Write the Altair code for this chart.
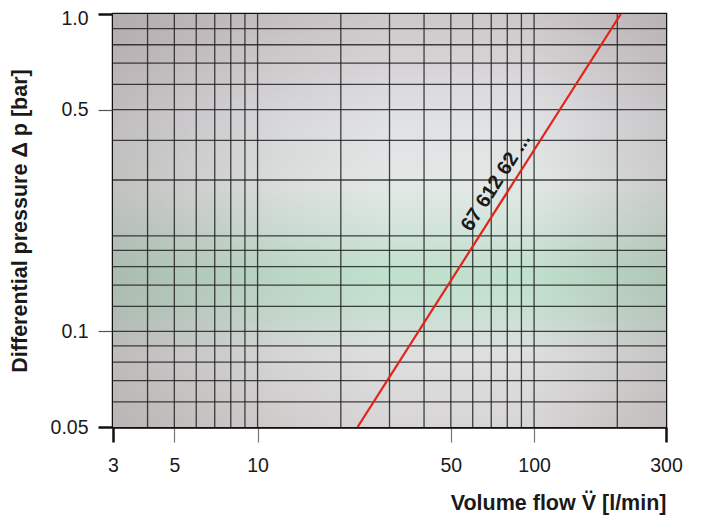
import altair as alt
import pandas as pd

# ---- data ----
x_ticks = [3, 5, 10, 50, 100, 300]
y_ticks = [0.05, 0.1, 0.5, 1.0]
x_grid = [4, 5, 6, 7, 8, 9, 10, 20, 30, 40, 50, 60, 70, 80, 90, 100, 200]
y_grid = [0.06, 0.07, 0.08, 0.09, 0.1, 0.12, 0.14, 0.16, 0.18,
          0.2, 0.3, 0.4, 0.5, 0.6, 0.7, 0.8, 0.9]
line_flow = [23.0, 206.0]
line_dp = [0.05, 1.0]
label_text = ["67 612 62 ..."]
label_flow = [80.9]
label_dp = [0.278]

W, H = 553, 413
xs = alt.Scale(type="log", domain=[3, 300], nice=False)
ys = alt.Scale(type="log", domain=[0.05, 1.0], nice=False)
FONT = "Liberation Sans"

end_test_x = "datum.value == 3 || datum.value == 300"
end_test_y = "datum.value == 1 || datum.value == 0.05"

x_axis = alt.Axis(
    values=x_ticks, format="~g", grid=False,
    title="Volume flow V\u0308 [l/min]", titleAnchor="end",
    titleFont=FONT, titleFontSize=21.5, titleFontWeight="bold",
    titleColor="#1a1a1a", titlePadding=18,
    labelFont=FONT, labelFontSize=19.5, labelColor="#1a1a1a",
    labelPadding=14, tickSize=15,
    tickColor={"condition": {"test": end_test_x, "value": "#111"}, "value": "#777"},
    tickWidth={"condition": {"test": end_test_x, "value": 2.5}, "value": 1.2},
    domainColor="#111", domainWidth=2.5, labelFlush=False)
y_axis = alt.Axis(
    values=y_ticks, grid=False,
    labelExpr="datum.value == 1 ? '1.0' : format(datum.value, '~g')",
    labelOffset={"condition": {"test": "datum.value == 1", "value": 4}, "value": 0},
    title="Differential pressure \u0394 p [bar]",
    titleFont=FONT, titleFontSize=21.5, titleFontWeight="bold",
    titleColor="#1a1a1a", titlePadding=19,
    labelFont=FONT, labelFontSize=19.5, labelColor="#1a1a1a",
    labelPadding=10, tickSize=15,
    tickColor={"condition": {"test": end_test_y, "value": "#111"}, "value": "#555"},
    tickWidth={"condition": {"test": end_test_y, "value": 2.5}, "value": 1.2},
    domainColor="#111", domainWidth=2.5, labelFlush=False)

bg_v = alt.Gradient(
    gradient="linear", x1=0, y1=0, x2=0, y2=1,
    stops=[
        alt.GradientStop(color="#cdc7c9", offset=0),
        alt.GradientStop(color="#e0e1e4", offset=0.25),
        alt.GradientStop(color="#e2e8e5", offset=0.42),
        alt.GradientStop(color="#c0e0cd", offset=0.63),
        alt.GradientStop(color="#c8e0d2", offset=0.72),
        alt.GradientStop(color="#dedfdf", offset=0.82),
        alt.GradientStop(color="#d8d5d5", offset=1),
    ],
)
bg_h = alt.Gradient(
    gradient="linear", x1=0, y1=0, x2=1, y2=0,
    stops=[
        alt.GradientStop(color="rgba(110,95,95,0.28)", offset=0),
        alt.GradientStop(color="rgba(110,95,95,0.08)", offset=0.3),
        alt.GradientStop(color="rgba(110,95,95,0.0)", offset=0.5),
        alt.GradientStop(color="rgba(110,95,95,0.0)", offset=0.75),
        alt.GradientStop(color="rgba(110,95,95,0.2)", offset=1),
    ],
)
dummy = pd.DataFrame({"a": [0]})
bg1 = alt.Chart(dummy).mark_rect(fill=bg_v).encode(
    x=alt.value(0), x2=alt.value(W), y=alt.value(0), y2=alt.value(H))
bg2 = alt.Chart(dummy).mark_rect(fill=bg_h).encode(
    x=alt.value(0), x2=alt.value(W), y=alt.value(0), y2=alt.value(H))

gx = alt.Chart(pd.DataFrame({"q": x_grid})).mark_rule(
    color="#222", strokeWidth=1.3, opacity=0.85).encode(
    x=alt.X("q:Q", scale=xs, axis=x_axis))
gy = alt.Chart(pd.DataFrame({"p": y_grid})).mark_rule(
    color="#222", strokeWidth=1.3, opacity=0.85).encode(
    y=alt.Y("p:Q", scale=ys, axis=y_axis))

line = alt.Chart(pd.DataFrame({"q": line_flow, "p": line_dp})).mark_line(
    color="#e2231a", strokeWidth=2.2, clip=True).encode(
    x=alt.X("q:Q", scale=xs, axis=x_axis),
    y=alt.Y("p:Q", scale=ys, axis=y_axis),
)

label = alt.Chart(pd.DataFrame({"q": label_flow, "p": label_dp, "t": label_text})).mark_text(
    angle=302.6, font=FONT, fontSize=20, fontWeight="bold", color="#1a1a1a",
    align="center", baseline="middle", dy=-15).encode(
    x=alt.X("q:Q", scale=xs, axis=x_axis),
    y=alt.Y("p:Q", scale=ys, axis=y_axis),
    text="t:N")

chart = alt.layer(bg1, bg2, gx, gy, line, label).properties(
    width=W, height=H,
    autosize=alt.AutoSizeParams(type="none"),
    padding={"left": 105, "top": 6, "right": 20, "bottom": 89},
).configure_view(stroke="#111", strokeWidth=2.5)

chart.save("out.html", embed_options={"renderer": "svg", "actions": False})
